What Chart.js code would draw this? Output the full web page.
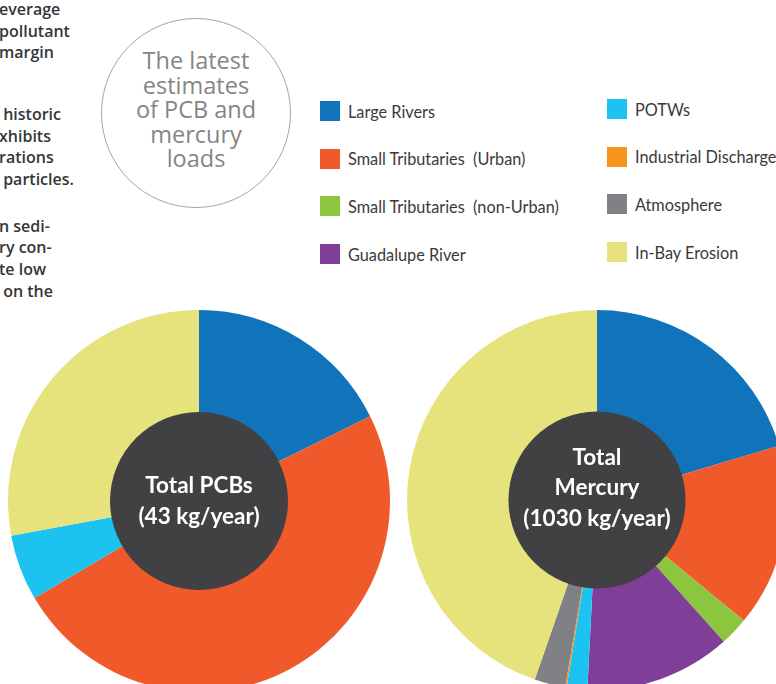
<!DOCTYPE html>
<html>
<head>
<meta charset="utf-8">
<script src="https://cdn.jsdelivr.net/npm/chart.js@4/dist/chart.umd.min.js"></script>
<style>
  html, body { margin: 0; padding: 0; }
  body {
    width: 776px; height: 684px; overflow: hidden; position: relative;
    background: #ffffff; font-family: "Open Sans", sans-serif;
  }
  .body-text {
    position: absolute; left: 0; top: 0;
    font-weight: 600; font-size: 16px; color: #363636; white-space: pre;
  }
  .body-text div { position: absolute; left: -1px; }
  .badge {
    position: absolute; left: 101px; top: 18px; width: 190px; height: 190px;
    border: 1.5px solid #a4a4a4; border-radius: 50%; box-sizing: border-box;
  }
  .badge span {
    position: absolute; left: 0; right: 0; top: 29px; text-align: center;
    font-size: 23.5px; line-height: 24.5px; color: #858585;
  }
  .legend { position: absolute; left: 0; top: 0; font-family: Lato, sans-serif; }
  .legend .item {
    position: absolute; display: flex; align-items: center;
    font-size: 16.3px; color: #3a3a3a; white-space: pre;
  }
  .legend .box { width: 20px; height: 20px; margin-right: 8px; }
  canvas { position: absolute; }
</style>
</head>
<body>

<div class="body-text" id="bodyText"></div>

<div class="badge"><span>The latest<br>estimates<br>of PCB and<br>mercury<br>loads</span></div>

<div class="legend" id="legend"></div>

<canvas id="pcbChart" width="382" height="382" style="left:8px; top:310px;"></canvas>
<canvas id="hgChart" width="380" height="380" style="left:407px; top:310px;"></canvas>

<script>
// load sources, same order in both charts (clockwise from 12 o'clock)
const sources = [
  'Large Rivers',
  'Small Tributaries  (Urban)',
  'Small Tributaries  (non-Urban)',
  'Guadalupe River',
  'POTWs',
  'Industrial Discharge',
  'Atmosphere',
  'In-Bay Erosion'
];
const sourceColors = [
  '#1174bb', '#f05a2b', '#8cc63f', '#7f3f98',
  '#1cc3f1', '#f7941d', '#808184', '#e6e27c'
];

// kg/year
const pcbLoads = [7.6, 21, 0, 0, 2.4, 0, 0, 12];
const mercuryLoads = [210, 160, 25, 128, 18, 1.3, 27, 460];

const pcbCenterText = ['Total PCBs', '(43 kg/year)'];
const mercuryCenterText = ['Total', 'Mercury', '(1030 kg/year)'];

// text column running down the left edge
const bodyLines = [
  [10, 'everage'], [32, 'pollutant'], [53, 'margin'],
  [115, ' historic'], [137, 'xhibits'], [158, 'rations'], [180, ' particles.'],
  [227, 'n sedi-'], [248, 'ry con-'], [270, 'te low'], [292, ' on the']
];
const bodyText = document.getElementById('bodyText');
bodyLines.forEach(([y, txt]) => {
  const d = document.createElement('div');
  d.style.top = (y - 12) + 'px';
  d.textContent = txt;
  bodyText.appendChild(d);
});

// shared legend, two columns of four
const legend = document.getElementById('legend');
sources.forEach((name, i) => {
  const col = Math.floor(i / 4), row = i % 4;
  const item = document.createElement('div');
  item.className = 'item';
  item.style.left = (col === 0 ? 320 : 607) + 'px';
  item.style.top = ((col === 0 ? 101 : 99) + row * 47.7) + 'px';
  item.innerHTML = '<div class="box" style="background:' + sourceColors[i] + '"></div>';
  item.appendChild(document.createTextNode(name));
  legend.appendChild(item);
});

// dark disc with the total written in the middle of the pie
const centerDisc = {
  id: 'centerDisc',
  afterDatasetsDraw(chart, args, opts) {
    const arc = chart.getDatasetMeta(0).data[0];
    const { x, y, outerRadius } = arc.getProps(['x', 'y', 'outerRadius'], true);
    const ctx = chart.ctx;
    ctx.save();
    ctx.beginPath();
    ctx.arc(x, y, outerRadius * 0.466, 0, Math.PI * 2);
    ctx.fillStyle = '#414042';
    ctx.fill();
    ctx.fillStyle = '#ffffff';
    ctx.font = 'bold 22.5px Lato, sans-serif';
    ctx.textAlign = 'center';
    ctx.textBaseline = 'middle';
    const lh = 30.5;
    const y0 = y - (opts.lines.length - 1) * lh / 2 + opts.shift;
    opts.lines.forEach((t, i) => ctx.fillText(t, x, y0 + i * lh));
    ctx.restore();
  }
};

function makePie(id, values, lines, shift) {
  new Chart(document.getElementById(id), {
    type: 'pie',
    data: {
      labels: sources,
      datasets: [{
        data: values,
        backgroundColor: sourceColors,
        borderWidth: 0
      }]
    },
    options: {
      responsive: false,
      animation: false,
      layout: { padding: 0 },
      plugins: {
        legend: { display: false },
        tooltip: { enabled: false },
        centerDisc: { lines: lines, shift: shift }
      }
    },
    plugins: [centerDisc]
  });
}

makePie('pcbChart', pcbLoads, pcbCenterText, 0);
makePie('hgChart', mercuryLoads, mercuryCenterText, -12);
</script>
</body>
</html>
